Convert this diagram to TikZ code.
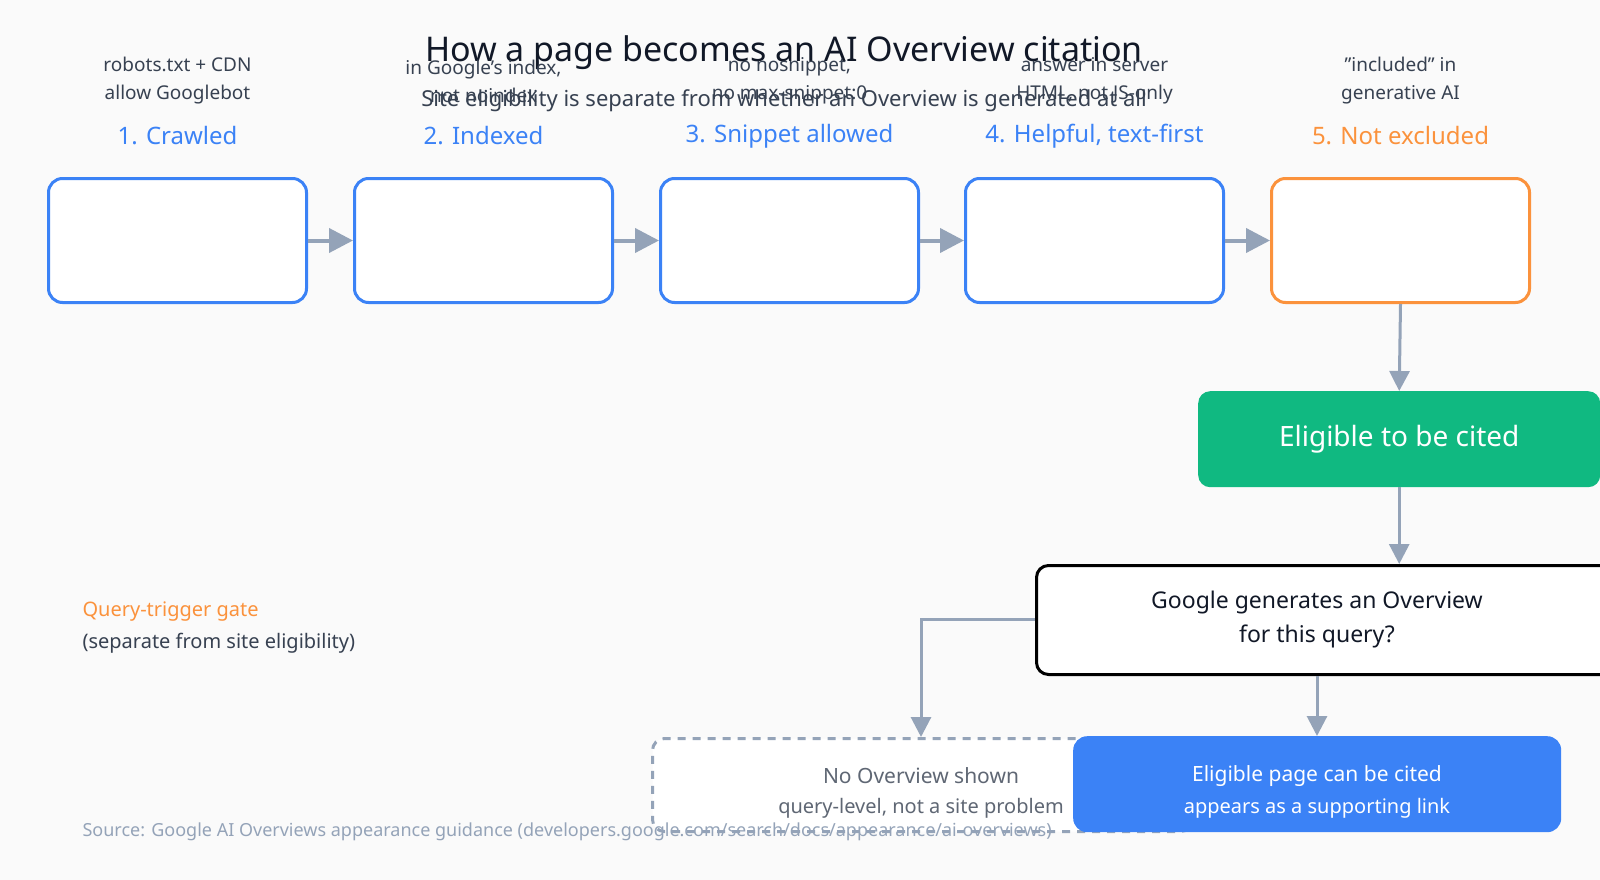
\documentclass[tikz,border=0pt]{standalone}
\usepackage{fontspec}
\setmainfont{Noto Sans}
\usetikzlibrary{arrows.meta}
\definecolor{bg}{HTML}{FAFAFA}
\definecolor{blu}{HTML}{3B82F6}
\definecolor{org}{HTML}{FB923C}
\definecolor{grn}{HTML}{10B981}
\definecolor{gry}{HTML}{94A3B8}
\definecolor{txt}{HTML}{374151}
\definecolor{ttl}{HTML}{111827}
\begin{document}
\begin{tikzpicture}[x=1pt,y=-1pt,
 stepbox/.style={draw=blu,line width=3pt,fill=white,rounded corners=14pt,minimum width=258pt,minimum height=124pt,anchor=north west,inner sep=0pt},
 hd/.style={font=\fontsize{24}{28}\selectfont,text=blu},
 bd/.style={font=\fontsize{19}{28}\selectfont,text=txt,align=center},
 arr/.style={draw=gry,line width=4pt,-{Triangle[length=24pt,width=24pt]}},
 arrs/.style={draw=gry,line width=3pt,-{Triangle[length=20pt,width=20pt]}}]
\fill[bg] (0,0) rectangle (1600,880);
\useasboundingbox (0,0) rectangle (1600,880);
\node[font=\fontsize{34}{40}\selectfont,text=ttl] (title) at (784,53) {How a page becomes an AI Overview citation};
\node[font=\fontsize{22}{26}\selectfont,text=txt] (sub) at (784,101) {Site eligibility is separate from whether an Overview is generated at all};
\node[stepbox] (s1) at (47,177) {};
\node[stepbox] (s2) at (353,177) {};
\node[stepbox] (s3) at (659,177) {};
\node[stepbox] (s4) at (964,177) {};
\node[stepbox,draw=org] (s5) at (1270,177) {};
\node[hd] (s1h) at ([yshift=41pt]s1.north) {1. Crawled};
\node[bd] (s1b) at ([yshift=96pt]s1.north) {robots.txt + CDN\\allow Googlebot};
\node[hd] (s2h) at ([yshift=41pt]s2.north) {2. Indexed};
\node[bd] (s2b) at ([yshift=96pt]s2.north) {in Google's index,\\not noindex};
\node[hd] (s3h) at ([yshift=41pt]s3.north) {3. Snippet allowed};
\node[bd] (s3b) at ([yshift=96pt]s3.north) {no nosnippet,\\no max-snippet:0};
\node[hd] (s4h) at ([yshift=41pt]s4.north) {4. Helpful, text-first};
\node[bd] (s4b) at ([yshift=96pt]s4.north) {answer in server\\HTML, not JS-only};
\node[hd,text=org] (s5h) at ([yshift=41pt]s5.north) {5. Not excluded};
\node[bd] (s5b) at ([yshift=96pt]s5.north) {"included" in\\generative AI};
\draw[arr] (s1.east) -- (s2.west);
\draw[arr] (s2.east) -- (s3.west);
\draw[arr] (s3.east) -- (s4.west);
\draw[arr] (s4.east) -- (s5.west);
\node[fill=grn,rounded corners=12pt,minimum width=402pt,minimum height=96pt,anchor=north west,inner sep=0pt] (el) at (1198,391) {};
\node[font=\fontsize{28}{32}\selectfont,text=white] (elt) at (el.center) {Eligible to be cited};
\draw[arrs] (s5.south) -- (el.north);
\node[draw=black,line width=3pt,fill=white,rounded corners=12pt,minimum width=580pt,minimum height=109pt,anchor=north west,inner sep=0pt] (dec) at (1035,564) {};
\node[font=\fontsize{23}{34}\selectfont,text=ttl,align=center] (dect) at (1317,620) {Google generates an Overview\\for this query?};
\draw[arrs] (el.south) -- (dec.north -| el.south);
\node[anchor=west,font=\fontsize{20}{24}\selectfont,text=org] (qg) at (79,612) {Query-trigger gate};
\node[anchor=west,font=\fontsize{20}{24}\selectfont,text=txt] (qs) at (79,643) {(separate from site eligibility)};
\node[draw=gry,line width=3pt,dash pattern=on 8pt off 7pt,fill=white,rounded corners=12pt,minimum width=540pt,minimum height=93pt,anchor=north west,inner sep=0pt] (no) at (651,737) {};
\node[font=\fontsize{21}{26}\selectfont,text=txt!80] (not) at (921,776) {No Overview shown};
\node[font=\fontsize{20}{24}\selectfont,text=txt!80] (nob) at (921,808) {query-level, not a site problem};
\coordinate (bend) at (921,619);
\draw[arrs] (dec.west |- bend) -- (bend) -- (no.north -| bend);
\node[anchor=west,font=\fontsize{18}{22}\selectfont,text=gry] (src) at (79,832) {Source: Google AI Overviews appearance guidance (developers.google.com/search/docs/appearance/ai-overviews)};
\node[fill=blu,rounded corners=14pt,minimum width=488pt,minimum height=96pt,anchor=north west,inner sep=0pt] (cit) at (1073,736) {};
\node[font=\fontsize{21}{26}\selectfont,text=white] (citt) at (1317,776) {Eligible page can be cited};
\node[font=\fontsize{20}{24}\selectfont,text=white] (citb) at (1317,808) {appears as a supporting link};
\draw[arrs] (dec.south -| citt) -- (cit.north -| citt);
\end{tikzpicture}
\end{document}
